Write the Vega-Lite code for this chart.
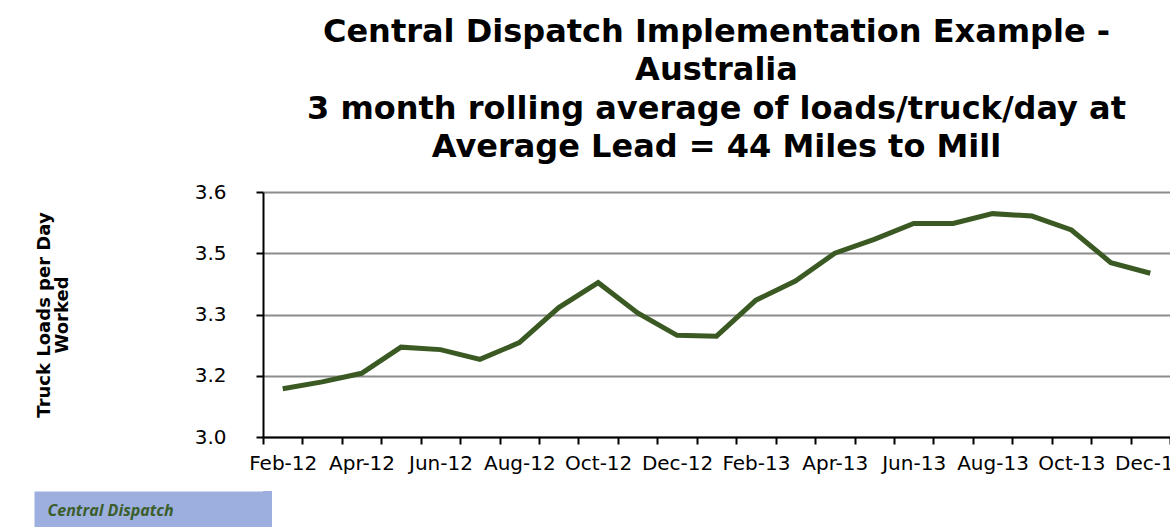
{
  "$schema": "https://vega.github.io/schema/vega-lite/v6.json",
  "background": "white",
  "padding": {"top": 15, "left": 9, "right": 5, "bottom": 0},
  "config": {
    "font": "DejaVu Sans",
    "view": {"stroke": null}
  },
  "spacing": 18,
  "vconcat": [
    {
      "width": 907,
      "height": 245,
      "title": {
        "text": ["Central Dispatch Implementation Example -", "Australia", "3 month rolling average of loads/truck/day at", "Average Lead = 44 Miles to Mill"],
        "font": "DejaVu Sans",
        "fontSize": 32,
        "fontWeight": "bold",
        "lineHeight": 38.5,
        "color": "black",
        "anchor": "middle",
        "offset": 18
      },
      "data": {
        "values": [
          {"month": "Feb-12", "loads": 3.118},
          {"month": "Mar-12", "loads": 3.135},
          {"month": "Apr-12", "loads": 3.156},
          {"month": "May-12", "loads": 3.220},
          {"month": "Jun-12", "loads": 3.214},
          {"month": "Jul-12", "loads": 3.190},
          {"month": "Aug-12", "loads": 3.231},
          {"month": "Sep-12", "loads": 3.317},
          {"month": "Oct-12", "loads": 3.378},
          {"month": "Nov-12", "loads": 3.304},
          {"month": "Dec-12", "loads": 3.249},
          {"month": "Jan-13", "loads": 3.247},
          {"month": "Feb-13", "loads": 3.335},
          {"month": "Mar-13", "loads": 3.382},
          {"month": "Apr-13", "loads": 3.450},
          {"month": "May-13", "loads": 3.484},
          {"month": "Jun-13", "loads": 3.523},
          {"month": "Jul-13", "loads": 3.523},
          {"month": "Aug-13", "loads": 3.547},
          {"month": "Sep-13", "loads": 3.541},
          {"month": "Oct-13", "loads": 3.507},
          {"month": "Nov-13", "loads": 3.427},
          {"month": "Dec-13", "loads": 3.401}
        ]
      },
      "mark": {"type": "line", "color": "#3b5a23", "strokeWidth": 5},
      "encoding": {
        "x": {
          "field": "month",
          "type": "nominal",
          "sort": null,
          "scale": {"paddingInner": 0, "paddingOuter": 0},
          "axis": {
            "title": null,
            "labelAngle": 0,
            "labelFontSize": 20,
            "labelColor": "black",
            "labelPadding": 9,
            "labelOverlap": false,
            "labelExpr": "isString(datum.value) && indexof(['Feb','Apr','Jun','Aug','Oct','Dec'], slice(datum.value,0,3)) >= 0 ? datum.value : ''",
            "tickBand": "extent",
            "tickSize": 7,
            "tickWidth": 2,
            "tickColor": "black",
            "domainColor": "black",
            "domainWidth": 2,
            "grid": false
          }
        },
        "y": {
          "field": "loads",
          "type": "quantitative",
          "scale": {"domain": [3.0, 3.6], "zero": false, "nice": false},
          "axis": {
            "title": ["Truck Loads per Day", "Worked"],
            "titleFontSize": 18,
            "titleFontWeight": "bold",
            "titleLineHeight": 18,
            "titleColor": "black",
            "titlePadding": 123,
            "values": [3.0, 3.15, 3.3, 3.45, 3.6],
            "labelExpr": "format(datum.value + 0.0001, '.1f')",
            "labelFontSize": 20,
            "labelColor": "black",
            "labelPadding": 30,
            "tickSize": 7,
            "tickWidth": 2,
            "tickColor": "black",
            "domainColor": "black",
            "domainWidth": 2,
            "grid": true,
            "gridColor": "#8c8c8c",
            "gridWidth": 2
          }
        }
      }
    },
    {
      "width": 9,
      "height": 50,
      "data": {"values": [{"label": "Central Dispatch"}]},
      "mark": {"type": "rect", "color": "#9cafdf"},
      "encoding": {
        "y": {
          "field": "label",
          "type": "nominal",
          "scale": {"paddingInner": 0, "paddingOuter": 0},
          "axis": {
            "title": null,
            "domain": false,
            "grid": false,
            "tickSize": 229,
            "tickWidth": 50,
            "tickColor": "#9cafdf",
            "tickCap": "butt",
            "labelAlign": "left",
            "labelBaseline": "alphabetic",
            "labelPadding": -13,
            "labelLimit": 0,
            "labelFont": "Open Sans",
            "labelFontStyle": "italic",
            "labelFontWeight": "bold",
            "labelFontSize": 16,
            "labelColor": "#3b5e2b"
          }
        }
      }
    }
  ]
}
